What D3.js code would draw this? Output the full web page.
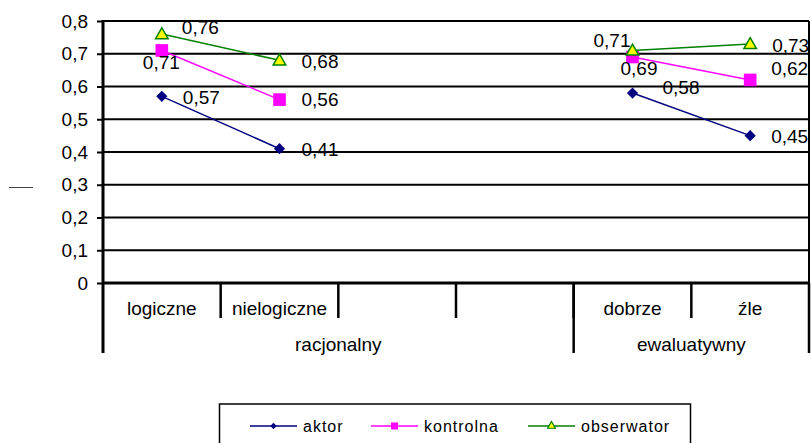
<!DOCTYPE html>
<html>
<head>
<meta charset="utf-8">
<style>
    body { margin: 0; background: #fff; }
    svg { display: block; font-family: "Liberation Sans", Arial, sans-serif; }
    .y .domain { display: none; }
    .y .tick text { font-size: 19px; fill: #000; }
    .y .tick line { stroke: #000; stroke-width: 2; }
    .val { font-size: 19px; fill: #000; }
    .cat { font-size: 19px; fill: #000; }
    .legend-label { font-size: 16px; letter-spacing: 1px; fill: #000; }
</style>
</head>
<body>
<svg width="811" height="443"></svg>

<script src="https://d3js.org/d3.v7.min.js"></script>
<script>
    // categories along the x axis (two empty slots in the middle)
    let categories = ["logiczne", "nielogiczne", "", "", "dobrze", "źle"];
    let groupNames = ["racjonalny", "ewaluatywny"];
    let groupSpans = [4, 2];

    let seriesNames = ["aktor", "kontrolna", "obserwator"];
    let aktor = [0.57, 0.41, null, null, 0.58, 0.45];
    let kontrolna = [0.71, 0.56, null, null, 0.69, 0.62];
    let obserwator = [0.76, 0.68, null, null, 0.71, 0.73];

    let yTicks = [0, 0.1, 0.2, 0.3, 0.4, 0.5, 0.6, 0.7, 0.8];

    // label placement next to each point [dx, dy]
    let labelOffsets = {
        aktor: [[21, 1], [22, 1], null, null, [30, -6], [21, 1]],
        kontrolna: [[-19, 12], [22, 0], null, null, [-12, 11], [21, -12]],
        obserwator: [[20, -7], [22, 1], null, null, [-39, -10], [22, 1]]
    };

    let colors = { aktor: "#000080", kontrolna: "#ff00ff", obserwator: "#008000" };
    let values = { aktor: aktor, kontrolna: kontrolna, obserwator: obserwator };

    let svg = d3.select("svg");
    let plot = { left: 103, right: 809, top: 21, bottom: 283 };

    let x = d3.scaleBand()
        .domain(d3.range(categories.length))
        .range([plot.left, plot.right])
        .padding(0);

    let y = d3.scaleLinear()
        .domain([0, 0.8])
        .range([plot.bottom, plot.top]);

    let fmt = v => d3.format(".2f")(v).replace(".", ",");

    // gridlines
    svg.append("g")
        .selectAll("line")
        .data(yTicks.filter(d => d > 0))
        .join("line")
        .attr("x1", plot.left).attr("x2", plot.right)
        .attr("y1", d => y(d)).attr("y2", d => y(d))
        .attr("stroke", "#000")
        .attr("stroke-width", 2.2);

    // right border
    svg.append("line")
        .attr("x1", plot.right).attr("x2", plot.right)
        .attr("y1", plot.top).attr("y2", plot.bottom)
        .attr("stroke", "#000").attr("stroke-width", 2);

    // y axis
    svg.append("g")
        .attr("class", "y axis")
        .attr("transform", `translate(${plot.left},0)`)
        .call(d3.axisLeft(y)
            .tickValues(yTicks)
            .tickSize(6)
            .tickPadding(9)
            .tickFormat(d => d === 0 ? "0" : d3.format(".1f")(d).replace(".", ",")));

    svg.append("line")
        .attr("x1", plot.left).attr("x2", plot.left)
        .attr("y1", plot.top - 1).attr("y2", 353)
        .attr("stroke", "#000").attr("stroke-width", 3);

    svg.append("line")
        .attr("x1", plot.left).attr("x2", plot.right)
        .attr("y1", y(0)).attr("y2", y(0))
        .attr("stroke", "#000").attr("stroke-width", 3);

    // axis title placeholder dash on the left
    svg.append("line")
        .attr("x1", 9).attr("x2", 33)
        .attr("y1", 187.5).attr("y2", 187.5)
        .attr("stroke", "#444").attr("stroke-width", 1);

    // category dividers and labels
    let bw = x.bandwidth();
    svg.append("g")
        .selectAll("line")
        .data(d3.range(1, categories.length))
        .join("line")
        .attr("x1", i => x(i)).attr("x2", i => x(i))
        .attr("y1", plot.bottom).attr("y2", 318)
        .attr("stroke", "#000").attr("stroke-width", 2.5);

    svg.append("g")
        .selectAll("text")
        .data(categories)
        .join("text")
        .attr("class", "cat")
        .attr("x", (d, i) => x(i) + bw / 2)
        .attr("y", 308)
        .attr("dy", "0.35em")
        .attr("text-anchor", "middle")
        .text(d => d);

    // group separators and labels
    let groupStarts = groupSpans.map((s, i) => d3.sum(groupSpans.slice(0, i)));
    svg.append("g")
        .selectAll("line")
        .data(groupStarts.slice(1).concat([categories.length]))
        .join("line")
        .attr("x1", i => x(i) !== undefined ? x(i) : plot.right)
        .attr("x2", i => x(i) !== undefined ? x(i) : plot.right)
        .attr("y1", plot.bottom).attr("y2", 353)
        .attr("stroke", "#000").attr("stroke-width", 2.5);

    svg.append("g")
        .selectAll("text")
        .data(groupNames)
        .join("text")
        .attr("class", "cat")
        .attr("x", (d, i) => {
            let a = x(groupStarts[i]);
            let b = groupStarts[i] + groupSpans[i] < categories.length ? x(groupStarts[i] + groupSpans[i]) : plot.right;
            return (a + b) / 2;
        })
        .attr("y", 344)
        .attr("dy", "0.35em")
        .attr("text-anchor", "middle")
        .text(d => d);

    // markers
    let symbols = {
        aktor: d3.symbol().type(d3.symbolDiamond2).size(80),
        kontrolna: d3.symbol().type(d3.symbolSquare).size(160),
        obserwator: d3.symbol().type(d3.symbolTriangle).size(68)
    };
    let legendSymbols = {
        aktor: d3.symbol().type(d3.symbolDiamond2).size(26),
        kontrolna: d3.symbol().type(d3.symbolSquare).size(50),
        obserwator: d3.symbol().type(d3.symbolTriangle).size(26)
    };
    let fills = { aktor: "#000080", kontrolna: "#ff00ff", obserwator: "#ffff00" };

    let line = d3.line()
        .defined(d => d.v !== null)
        .x(d => x(d.i) + bw / 2)
        .y(d => y(d.v));

    seriesNames.forEach(name => {
        let pts = values[name].map((v, i) => ({ v: v, i: i }));
        let g = svg.append("g");
        g.append("path")
            .datum(pts)
            .attr("fill", "none")
            .attr("stroke", colors[name])
            .attr("stroke-width", 1.5)
            .attr("d", line);

        g.selectAll("path.mark")
            .data(pts.filter(d => d.v !== null))
            .join("path")
            .attr("class", "mark")
            .attr("transform", d => `translate(${x(d.i) + bw / 2},${y(d.v) + (name === "obserwator" ? 1 : 0)})`)
            .attr("fill", fills[name])
            .attr("stroke", name === "obserwator" ? colors[name] : "none")
            .attr("stroke-width", 1.5)
            .attr("d", symbols[name]);
    });

    // value labels drawn last
    seriesNames.forEach(name => {
        let pts = values[name].map((v, i) => ({ v: v, i: i })).filter(d => d.v !== null);
        svg.append("g")
            .selectAll("text")
            .data(pts)
            .join("text")
            .attr("class", "val")
            .attr("x", d => x(d.i) + bw / 2 + labelOffsets[name][d.i][0])
            .attr("y", d => y(d.v) + labelOffsets[name][d.i][1])
            .attr("dy", "0.35em")
            .text(d => fmt(d.v));
    });

    // legend
    let legend = svg.append("g");
    legend.append("rect")
        .attr("x", 219.5).attr("y", 404)
        .attr("width", 471).attr("height", 60)
        .attr("fill", "#fff")
        .attr("stroke", "#000").attr("stroke-width", 1.5);

    let legendX = [250, 371, 528];
    seriesNames.forEach((name, i) => {
        let lx = legendX[i];
        legend.append("line")
            .attr("x1", lx).attr("x2", lx + 47)
            .attr("y1", 426).attr("y2", 426)
            .attr("stroke", colors[name]).attr("stroke-width", 1.5);
        legend.append("path")
            .attr("transform", `translate(${lx + 23.5},426)`)
            .attr("fill", fills[name])
            .attr("stroke", name === "obserwator" ? colors[name] : "none")
            .attr("stroke-width", 1.2)
            .attr("d", legendSymbols[name]);
        legend.append("text")
            .attr("class", "legend-label")
            .attr("x", lx + 53)
            .attr("y", 426)
            .attr("dy", "0.35em")
            .text(name);
    });
</script>
</body>
</html>
